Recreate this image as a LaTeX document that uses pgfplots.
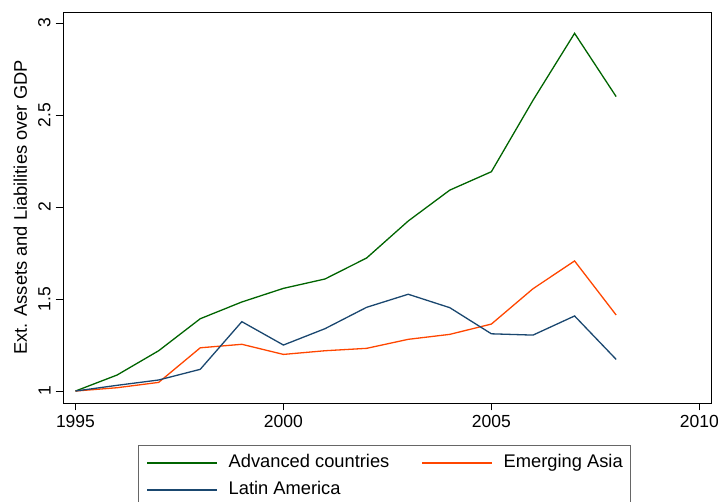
\documentclass[border=0pt]{standalone}
\usepackage{pgfplots}
\pgfplotsset{compat=1.18}
\usepackage{fontspec}
\setmainfont{Liberation Sans}
\definecolor{sgreen}{RGB}{0,100,0}
\definecolor{sorange}{RGB}{255,70,0}
\definecolor{snavy}{RGB}{26,71,111}
\begin{document}
\fontsize{14}{16}\selectfont
\begin{tikzpicture}
\begin{axis}[
  scale only axis,
  width=648pt, height=391pt,
  xmin=1994.70, xmax=2010.28,
  ymin=0.935, ymax=3.06,
  xtick={1995,2000,2005,2010},
  ytick={1,1.5,2,2.5,3},
  yticklabels={1,1.5,2,2.5,3},
  /pgf/number format/1000 sep={},
  /pgf/number format/assume math mode=true,
  tick align=outside,
  major tick length=7.5pt,
  xtick pos=bottom, ytick pos=left,
  axis line style={line width=0.9pt},
  every tick/.style={black, line width=0.8pt},
  ticklabel style={font=\fontsize{17.5}{19}\selectfont},
  yticklabel style={rotate=90, anchor=south},
  ylabel={Ext. Assets and Liabilities over GDP},
  ylabel style={at={(axis description cs:-0.066,0.5)}, anchor=center, font=\fontsize{18.3}{20}\selectfont},
  legend columns=2,
  legend cell align=left,
  legend image code/.code={\draw[#1] (0pt,0pt) -- (70pt,0pt);},
  legend style={
    at={(axis description cs:0.1157,-0.1074)}, anchor=north west,
    draw=black!60, line width=0.8pt,
    inner xsep=8pt, inner ysep=9pt,
    font=\fontsize{18.3}{20}\selectfont,
    nodes={inner sep=0pt, text height=13pt, text depth=4pt},
    row sep=10pt,
    /tikz/every odd column/.append style={column sep=11pt},
    /tikz/every even column/.append style={column sep=32pt},
  },
]
\addplot[sgreen, line width=1.3pt] coordinates {
(1995,1.000) (1996,1.087) (1997,1.219) (1998,1.393) (1999,1.484) (2000,1.558) (2001,1.609)
(2002,1.723) (2003,1.924) (2004,2.092) (2005,2.192) (2006,2.580) (2007,2.944) (2008,2.600)};
\addlegendentry{Advanced countries}
\addplot[sorange, line width=1.3pt] coordinates {
(1995,1.000) (1996,1.018) (1997,1.047) (1998,1.235) (1999,1.254) (2000,1.199) (2001,1.219)
(2002,1.232) (2003,1.281) (2004,1.308) (2005,1.364) (2006,1.556) (2007,1.707) (2008,1.413)};
\addlegendentry{Emerging Asia}
\addplot[snavy, line width=1.3pt] coordinates {
(1995,1.000) (1996,1.031) (1997,1.060) (1998,1.118) (1999,1.377) (2000,1.250) (2001,1.339)
(2002,1.455) (2003,1.526) (2004,1.453) (2005,1.311) (2006,1.304) (2007,1.408) (2008,1.172)};
\addlegendentry{Latin America}
\end{axis}
\pgfresetboundingbox
\path (-63pt,-99pt) rectangle (655pt,403pt);
\end{tikzpicture}
\end{document}
